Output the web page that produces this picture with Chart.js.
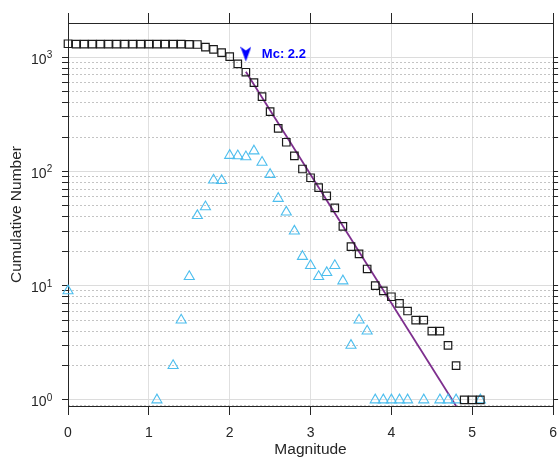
<!DOCTYPE html>
<html lang="en">
<head>
    <meta charset="UTF-8">
    <title>Cumulative Frequency-Magnitude Distribution</title>
    <script src="https://cdn.jsdelivr.net/npm/chart.js"></script>
    <style>
        html, body {
            margin: 0;
            padding: 0;
            background: #fff;
            overflow: hidden;
        }
        #wrap {
            width: 560px;
            height: 459px;
        }
    </style>
</head>
<body>
    <div id="wrap"><canvas id="fmd"></canvas></div>

    <script>
        // cumulative number of events with magnitude >= M (squares)
        const magnitudes = [0.0, 0.1, 0.2, 0.3, 0.4, 0.5, 0.6, 0.7, 0.8, 0.9,
                            1.0, 1.1, 1.2, 1.3, 1.4, 1.5, 1.6, 1.7, 1.8, 1.9,
                            2.0, 2.1, 2.2, 2.3, 2.4, 2.5, 2.6, 2.7, 2.8, 2.9,
                            3.0, 3.1, 3.2, 3.3, 3.4, 3.5, 3.6, 3.7, 3.8, 3.9,
                            4.0, 4.1, 4.2, 4.3, 4.4, 4.5, 4.6, 4.7, 4.8, 4.9,
                            5.0, 5.1];
        const cumulativeCounts = [1310, 1301, 1301, 1301, 1301, 1301, 1301, 1301, 1301, 1301,
                                  1301, 1301, 1300, 1300, 1298, 1293, 1290, 1225, 1170, 1095,
                                  1012, 873, 738, 598, 451, 333, 238, 180, 137, 105,
                                  88, 72, 61, 48, 33, 22, 19, 14, 10, 9,
                                  8, 7, 6, 5, 5, 4, 4, 3, 2, 1,
                                  1, 1];

        // number of events per 0.1 bin (triangles), empty bins left out
        const binMags = [0.0, 1.1, 1.3, 1.4, 1.5, 1.6, 1.7, 1.8, 1.9, 2.0,
                         2.1, 2.2, 2.3, 2.4, 2.5, 2.6, 2.7, 2.8, 2.9, 3.0,
                         3.1, 3.2, 3.3, 3.4, 3.5, 3.6, 3.7, 3.8, 3.9, 4.0,
                         4.1, 4.2, 4.4, 4.6, 4.7, 4.8, 5.1];
        const binCounts = [9, 1, 2, 5, 12, 41, 49, 84, 83, 138,
                           137, 134, 151, 120, 94, 58, 44, 30, 18, 15,
                           12, 13, 15, 11, 3, 5, 4, 1, 1, 1,
                           1, 1, 1, 1, 1, 1, 1];

        // Gutenberg-Richter fit, from Mc down to the bottom of the axis
        const fitMags = [2.2, 4.8];
        const fitCounts = [745, 0.885];

        // magnitude of completeness marker
        const mcMag = 2.2;
        const mcCount = 1065;
        const mcLabel = 'Mc: 2.2';

        // axes
        const xMin = 0, xMax = 6;
        const yMin = 0.885, yMax = 1990;
        const yTicks = [0.9, 1, 2, 3, 4, 5, 6, 7, 8, 9,
                        10, 20, 30, 40, 50, 60, 70, 80, 90,
                        100, 200, 300, 400, 500, 600, 700, 800, 900, 1000];
        const yDecades = [1, 10, 100, 1000];
        const yExponents = ['0', '1', '2', '3'];

        const FONT = '"Liberation Sans", Arial, Helvetica, sans-serif';
        const AXIS = '#262626';
        const CLEAR = 'rgba(0,0,0,0)';

        // little blue arrow head for the Mc marker
        const arrow = document.createElement('canvas');
        arrow.width = 11;
        arrow.height = 16;
        const actx = arrow.getContext('2d');
        actx.fillStyle = '#0000ff';
        actx.beginPath();
        actx.moveTo(0, 0.5);
        actx.lineTo(5.5, 4.5);
        actx.lineTo(11, 0.5);
        actx.lineTo(5.5, 15.5);
        actx.closePath();
        actx.fill();

        const toPoints = (xs, ys) => xs.map((x, i) => ({ x: x, y: ys[i] }));
        const setYTicks = scale => {
            scale.ticks = yTicks.map(v => ({ value: v, major: yDecades.includes(v) }));
        };

        // "10" with a raised exponent, like the original axis
        const powerLabels = {
            id: 'powerLabels',
            afterDraw(chart) {
                const c = chart.ctx;
                const ys = chart.scales.y;
                const x0 = chart.chartArea.left - 21.5;
                c.save();
                c.fillStyle = AXIS;
                yDecades.forEach((v, i) => {
                    const py = ys.getPixelForValue(v);
                    c.font = '14px ' + FONT;
                    c.textAlign = 'right';
                    c.textBaseline = 'alphabetic';
                    c.fillText('10', x0, py + 6.5);
                    c.font = '10px ' + FONT;
                    c.textAlign = 'left';
                    c.fillText(yExponents[i], x0 + 0.3, py + 1);
                });
                c.restore();
            }
        };

        // text label next to the Mc arrow
        const mcLabelPlugin = {
            id: 'mcLabel',
            afterDatasetsDraw(chart) {
                const c = chart.ctx;
                const px = chart.scales.x.getPixelForValue(mcMag);
                const py = chart.scales.y.getPixelForValue(mcCount);
                c.save();
                c.font = 'bold 13px ' + FONT;
                c.fillStyle = '#0000ff';
                c.textAlign = 'left';
                c.textBaseline = 'middle';
                c.fillText(mcLabel, px + 16, py);
                c.restore();
            }
        };

        new Chart(document.getElementById('fmd'), {
            type: 'scatter',
            data: {
                datasets: [{
                    label: 'Cumulative',
                    data: toPoints(magnitudes, cumulativeCounts),
                    pointStyle: 'rect',
                    pointRadius: 5.3,
                    borderColor: '#1a1a1a',
                    backgroundColor: CLEAR,
                    borderWidth: 1.2,
                    clip: false
                }, {
                    label: 'Non-cumulative',
                    data: toPoints(binMags, binCounts),
                    pointStyle: 'triangle',
                    pointRadius: 5.8,
                    borderColor: '#4dbeee',
                    backgroundColor: CLEAR,
                    borderWidth: 1.1,
                    clip: false
                }, {
                    label: 'G-R fit',
                    type: 'line',
                    data: toPoints(fitMags, fitCounts),
                    borderColor: '#7e2f8e',
                    borderWidth: 1.8,
                    pointRadius: 0,
                    fill: false
                }, {
                    label: 'Mc',
                    data: [{ x: mcMag, y: mcCount }],
                    pointStyle: arrow,
                    clip: false
                }]
            },
            options: {
                responsive: true,
                maintainAspectRatio: false,
                animation: false,
                layout: { padding: 0 },
                plugins: {
                    legend: { display: false },
                    tooltip: { enabled: false }
                },
                scales: {
                    x: {
                        type: 'linear',
                        position: 'bottom',
                        min: xMin,
                        max: xMax,
                        afterFit: s => {
                            s.height = 53;
                            s.paddingLeft = 0;
                            s.paddingRight = 0;
                        },
                        ticks: {
                            stepSize: 1,
                            color: AXIS,
                            padding: 10,
                            font: { family: FONT, size: 14 }
                        },
                        grid: {
                            color: '#e0e0e0',
                            tickColor: AXIS,
                            tickLength: 9
                        },
                        border: { color: AXIS, width: 1 },
                        title: {
                            display: true,
                            text: 'Magnitude',
                            color: AXIS,
                            font: { family: FONT, size: 15.5 },
                            padding: { top: 0, bottom: 0 }
                        }
                    },
                    xTop: {
                        type: 'linear',
                        position: 'top',
                        min: xMin,
                        max: xMax,
                        afterFit: s => {
                            s.height = 23;
                            s.paddingLeft = 0;
                            s.paddingRight = 0;
                        },
                        ticks: { stepSize: 1, display: false },
                        grid: {
                            drawOnChartArea: false,
                            tickColor: AXIS,
                            tickLength: 10
                        },
                        border: { color: AXIS, width: 1 }
                    },
                    y: {
                        type: 'logarithmic',
                        position: 'left',
                        min: yMin,
                        max: yMax,
                        afterBuildTicks: setYTicks,
                        afterFit: s => { s.width = 68; },
                        ticks: {
                            autoSkip: false,
                            callback: () => ''
                        },
                        grid: {
                            color: ctx => (ctx.tick && ctx.tick.major) ? '#dcdcdc' : CLEAR,
                            tickColor: ctx => (ctx.tick && ctx.tick.value < 1) ? CLEAR : AXIS,
                            tickLength: 6
                        },
                        border: { color: AXIS, width: 1 },
                        title: {
                            display: true,
                            text: 'Cumulative Number',
                            color: AXIS,
                            font: { family: FONT, size: 15.5 },
                            padding: { top: 7, bottom: 0 }
                        }
                    },
                    yMinor: {
                        type: 'logarithmic',
                        position: 'right',
                        min: yMin,
                        max: yMax,
                        afterBuildTicks: setYTicks,
                        afterFit: s => { s.width = 5; },
                        ticks: { display: false },
                        grid: {
                            color: ctx => (ctx.tick && !ctx.tick.major) ? '#c4c4c4' : CLEAR,
                            tickColor: ctx => (ctx.tick && ctx.tick.value < 1) ? CLEAR : AXIS,
                            tickLength: 5
                        },
                        border: { color: AXIS, width: 1, dash: [2, 2] }
                    }
                }
            },
            plugins: [mcLabelPlugin, powerLabels]
        });
    </script>
</body>
</html>
